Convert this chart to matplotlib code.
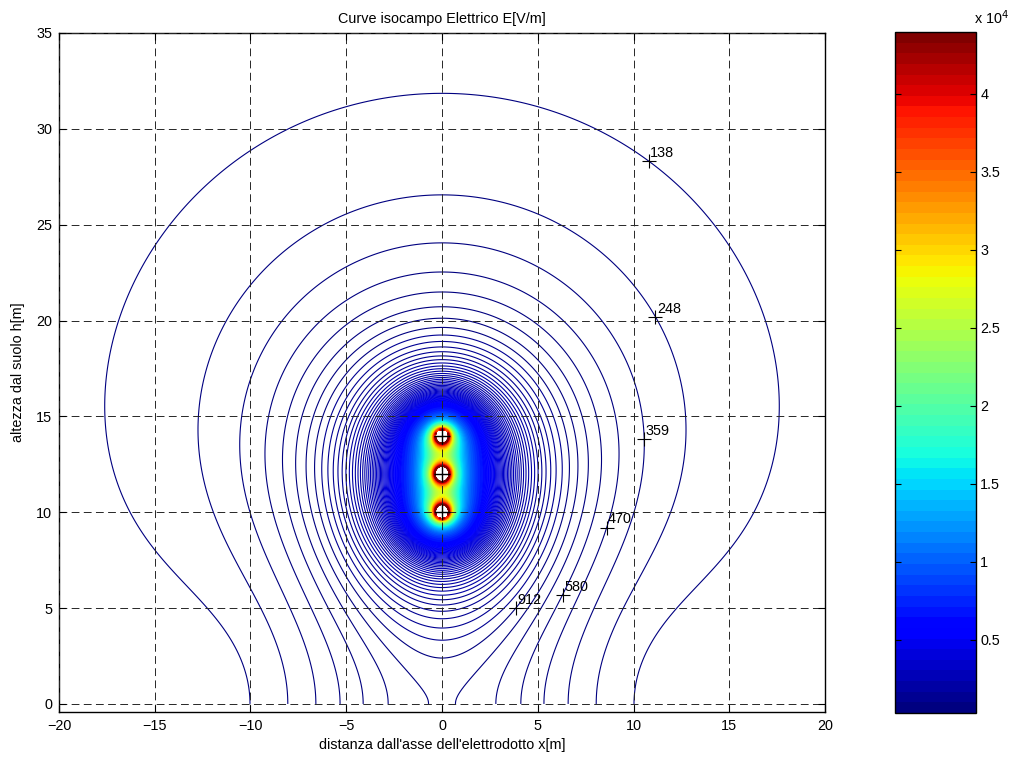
import numpy as np
import matplotlib
matplotlib.use("Agg")
import matplotlib.pyplot as plt
from matplotlib import colors, cm

plt.rcParams['font.family'] = ['Liberation Sans', 'DejaVu Sans']

# linea 132 kV, terna con conduttori disposti in verticale
cond_x = np.array([0.0, 0.0, 0.0])
cond_h = np.array([10.0, 12.0, 14.0])
cond_phase = np.array([0.0, -120.0, 120.0])   # gradi
cond_radius = 0.0158                           # m
line_voltage = 132e3                           # V concatenata
mask_radius = 0.3                              # zona attorno al conduttore non calcolata

# livelli delle curve isocampo
level_start = 27.35
level_step = 110.55
e_min, e_max = 320.0, 43970.0

# etichette: indice del livello e punto vicino alla curva
label_levels = [1, 2, 3, 4, 5, 8]
label_hint_x = [10.8, 11.1, 10.6, 8.6, 6.3, 3.8]
label_hint_y = [28.3, 20.2, 13.8, 9.2, 5.7, 5.0]

cbar_ticks = [0.5, 1, 1.5, 2, 2.5, 3, 3.5, 4]


def charges():
    # coefficienti di potenziale di Maxwell con le immagini nel suolo
    n = len(cond_x)
    P = np.empty((n, n))
    for i in range(n):
        for j in range(n):
            if i == j:
                P[i, j] = np.log(2 * cond_h[i] / cond_radius)
            else:
                d = np.hypot(cond_x[i] - cond_x[j], cond_h[i] - cond_h[j])
                di = np.hypot(cond_x[i] - cond_x[j], cond_h[i] + cond_h[j])
                P[i, j] = np.log(di / d)
    V = line_voltage / np.sqrt(3) * np.exp(1j * np.radians(cond_phase))
    return np.linalg.solve(P.astype(complex), V)


def field(X, Y):
    q = charges()
    Ex = np.zeros(X.shape, complex)
    Ey = np.zeros(X.shape, complex)
    with np.errstate(divide='ignore', invalid='ignore'):
        for k in range(len(q)):
            dx = X - cond_x[k]
            dy1 = Y - cond_h[k]
            dy2 = Y + cond_h[k]
            r1 = dx**2 + dy1**2
            r2 = dx**2 + dy2**2
            Ex += q[k] * (dx / r1 - dx / r2)
            Ey += q[k] * (dy1 / r1 - dy2 / r2)
        E = np.sqrt(np.abs(Ex)**2 + np.abs(Ey)**2)
    near = np.zeros(X.shape, bool)
    for k in range(len(cond_x)):
        near |= np.hypot(X - cond_x[k], Y - cond_h[k]) < mask_radius
    return np.ma.masked_where(near | ~np.isfinite(E), E)


xg = np.linspace(-20, 20, 401)
yg = np.linspace(0, 35, 351)
X, Y = np.meshgrid(xg, yg)
E = field(X, Y)

levels = np.arange(level_start, e_max, level_step)
cmap = plt.get_cmap('jet', 64)
norm = colors.Normalize(vmin=e_min, vmax=e_max)

fig = plt.figure(figsize=(10.18, 7.63), dpi=100)
ax = fig.add_axes([59 / 1018, 1 - 712 / 763, 766 / 1018, 679 / 763])
cax = fig.add_axes([895 / 1018, 1 - 713 / 763, 81 / 1018, 681 / 763])

cs = ax.contour(X, Y, E, levels=levels, cmap=cmap, norm=norm, linewidths=0.8)

# posizione dei conduttori
ax.plot(cond_x, cond_h, 'k+', ms=12, mew=1.0, zorder=5)

# etichette sulle curve
for k, hx, hy in zip(label_levels, label_hint_x, label_hint_y):
    segs = [s for s in cs.allsegs[k] if len(s)]
    pts = np.vstack(segs)
    i = np.argmin((pts[:, 0] - hx)**2 + (pts[:, 1] - hy)**2)
    px, py = pts[i]
    ax.plot(px, py, 'k+', ms=10, mew=0.8, zorder=5)
    ax.annotate(f"{levels[k]:.0f}", (px, py), xytext=(1, 3),
                textcoords='offset points', fontsize=10.4, zorder=6)

ax.set_xlim(-20, 20)
ax.set_ylim(-0.42, 35)
ax.set_xticks(np.arange(-20, 21, 5))
ax.set_yticks(np.arange(0, 36, 5))
ax.set_axisbelow(False)
ax.grid(True, color='0.15', linestyle=(0, (8, 4.5)), linewidth=0.7)
ax.tick_params(direction='in', top=True, right=True, length=5, labelsize=10.4, pad=5)
for sp in ax.spines.values():
    sp.set_linewidth(1.0)

ax.set_title("Curve isocampo Elettrico E[V/m]", fontsize=10.4, pad=7)
ax.set_xlabel("distanza dall'asse dell'elettrodotto x[m]", fontsize=10.4, labelpad=4)
ax.set_ylabel("altezza dal suolo h[m]", fontsize=10.4, labelpad=8)

cb = fig.colorbar(cm.ScalarMappable(norm=norm, cmap=cmap), cax=cax)
cb.set_ticks([t * 1e4 for t in cbar_ticks])
cb.set_ticklabels([f"{t:g}" for t in cbar_ticks])
cax.tick_params(direction='in', left=True, right=True, length=4, labelsize=10.4, pad=3)
cb.outline.set_linewidth(1.0)
cax.text(0.98, 1.008, r"x 10$^4$", transform=cax.transAxes, fontsize=10.4,
         ha='left', va='bottom')

fig.savefig("out.png", dpi=100)
